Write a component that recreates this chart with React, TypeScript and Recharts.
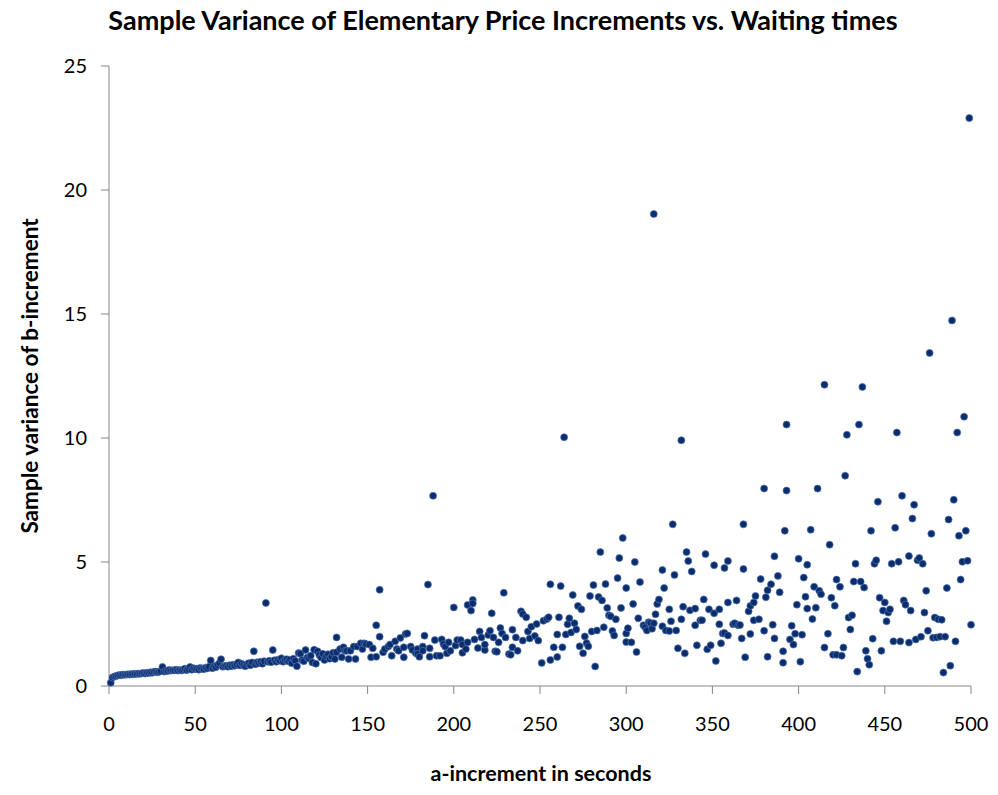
import { Scatter, ScatterChart, XAxis, YAxis } from "recharts";

const TITLE = "Sample Variance of Elementary Price Increments vs. Waiting times";
const X_LABEL = "a-increment in seconds";
const Y_LABEL = "Sample variance of b-increment";

const X_TICKS = [0, 50, 100, 150, 200, 250, 300, 350, 400, 450, 500];
const Y_TICKS = [0, 5, 10, 15, 20, 25];

// one reading per second for the first 130 seconds (x = 1..130)
const earlyVariance = [
  0.13, 0.34, 0.38, 0.4, 0.42, 0.44, 0.43, 0.46, 0.45, 0.46,
  0.47, 0.46, 0.48, 0.47, 0.49, 0.48, 0.5, 0.49, 0.51, 0.52,
  0.5, 0.53, 0.52, 0.55, 0.53, 0.57, 0.58, 0.55, 0.57, 0.6,
  0.77, 0.58, 0.62, 0.6, 0.65, 0.62, 0.64, 0.63, 0.66, 0.62,
  0.65, 0.63, 0.66, 0.7, 0.64, 0.68, 0.77, 0.66, 0.72, 0.68,
  0.7, 0.66, 0.73, 0.7, 0.68, 0.74, 0.71, 0.78, 1.03, 0.72,
  0.8, 0.76, 0.85, 0.92, 1.08, 0.78, 0.8, 0.82, 0.78, 0.84,
  0.8, 0.86, 0.82, 0.88, 0.95, 0.83, 0.9, 0.85, 0.8, 0.88,
  0.92, 0.84, 0.95, 1.4, 0.88, 0.96, 0.92, 0.98, 0.9, 1.0,
  3.35, 0.98, 1.02, 0.96, 1.45, 1.04, 0.98, 1.06, 1.02, 1.12,
  0.98, 1.05, 1.08, 1.0, 1.06, 0.92, 1.1, 1.02, 0.8, 1.33,
  1.3, 1.05, 1.0, 1.45, 1.15, 1.12, 1.22, 0.95, 1.46, 0.9,
  1.4, 1.25, 1.15, 1.3, 1.05, 1.2, 1.28, 1.1, 1.18, 1.34,
];

// [seconds, variance]
const midPoints: [number, number][] = [
  [131, 1.09], [132, 1.96], [132, 1.36], [134, 1.49], [135, 1.16], [136, 1.56],
  [137, 1.42], [138, 1.42], [139, 1.09], [140, 1.42], [142, 1.59], [143, 1.09],
  [144, 1.59], [146, 1.72], [147, 1.49], [148, 1.72], [149, 1.69], [151, 1.67],
  [152, 1.16], [153, 1.52], [155, 1.18], [155, 2.45], [157, 3.88], [157, 1.99],
  [159, 1.36], [160, 1.49], [162, 1.59], [163, 1.67], [164, 1.22], [166, 1.8],
  [167, 1.49], [168, 1.42], [169, 1.94], [171, 1.16], [171, 1.56], [172, 2.1],
  [173, 2.12], [175, 1.59], [176, 1.45], [178, 1.32], [179, 1.49], [179, 1.29],
  [180, 1.18], [182, 1.59], [182, 1.42], [183, 2.03], [185, 4.09], [186, 1.52],
  [186, 1.18], [188, 7.67], [189, 1.85], [190, 1.22], [192, 1.22], [193, 1.88],
  [194, 1.69], [195, 1.59], [196, 1.32], [197, 1.76], [198, 1.42], [200, 3.17],
  [201, 1.63], [202, 1.85], [204, 1.85], [205, 1.67], [205, 1.34], [207, 1.49],
  [208, 1.76], [208, 3.27], [210, 3.04], [211, 3.47], [211, 3.33], [212, 1.88],
  [214, 1.53], [215, 2.2], [216, 1.96], [218, 1.45], [218, 1.67], [220, 2.06],
  [221, 2.23], [222, 2.93], [223, 1.96], [224, 1.4], [225, 1.38], [226, 1.76],
  [227, 2.34], [228, 2.12], [229, 3.76], [230, 1.96], [232, 1.29], [233, 1.26],
  [234, 1.56], [234, 2.27], [236, 1.96], [237, 1.42], [239, 3.01], [240, 2.9],
  [240, 1.83], [242, 2.77], [243, 2.2], [244, 1.92], [245, 2.39], [247, 2.02],
  [248, 2.5], [249, 1.83], [251, 0.93], [252, 2.63], [254, 2.7], [255, 2.77],
  [256, 1.05], [256, 4.1], [258, 1.56],
];

const upperPoints: [number, number][] = [
  [260, 2.08], [260, 1.17], [261, 2.77], [262, 4.03], [263, 1.56], [264, 10.03],
  [265, 2.08], [266, 2.49], [267, 2.73], [268, 2.16], [269, 3.67], [270, 2.53],
  [271, 2.28], [272, 3.23], [273, 1.6], [274, 3.09], [275, 1.32], [276, 2.0],
  [277, 1.73], [278, 1.6], [279, 3.63], [280, 2.2], [281, 4.07], [282, 0.79],
  [283, 2.24], [284, 3.59], [285, 5.4], [286, 3.45], [287, 2.37], [288, 4.11],
  [289, 3.15], [290, 2.85], [291, 2.81], [292, 2.22], [293, 2.04], [294, 2.69],
  [295, 4.35], [296, 5.16], [297, 3.15], [298, 5.97], [300, 3.95], [300, 2.12],
  [300, 1.77], [301, 2.33], [303, 1.76], [304, 3.31], [305, 5.0], [306, 1.37],
  [307, 2.73], [308, 4.19], [310, 2.45], [311, 2.37], [312, 2.24], [313, 2.57],
  [314, 2.54], [315, 2.31], [316, 2.53], [316, 19.03], [317, 2.89], [318, 3.31],
  [319, 3.49], [321, 4.68], [321, 2.41], [322, 3.95], [323, 2.24], [325, 3.09],
  [325, 2.22], [326, 2.61], [327, 6.52], [328, 4.48], [329, 2.24], [330, 1.52],
  [332, 9.91], [332, 2.69], [333, 3.2], [334, 1.32], [335, 5.4], [336, 5.04],
  [337, 3.05], [338, 4.62], [340, 3.12], [340, 2.45], [341, 1.64], [343, 2.65],
  [344, 2.65], [345, 3.49], [346, 5.32], [347, 1.48], [348, 3.09], [349, 1.64],
  [351, 4.87], [351, 2.93], [352, 1.01], [354, 3.09], [354, 2.49], [355, 1.72],
  [356, 2.12], [357, 4.76], [357, 2.14], [359, 5.04], [359, 3.37], [359, 2.04],
  [362, 2.49], [363, 2.53], [364, 3.45], [365, 2.45], [366, 2.46], [367, 1.92],
  [368, 6.52], [368, 4.72], [369, 1.16], [371, 3.01], [372, 3.23], [372, 2.1],
  [374, 3.37], [374, 2.65], [375, 3.63], [377, 2.69], [378, 4.31],
];

const tailPoints: [number, number][] = [
  [380, 7.96], [380, 2.23], [381, 3.58], [382, 3.86], [382, 1.18], [384, 4.1],
  [385, 2.47], [386, 5.23], [386, 1.92], [388, 4.44], [389, 3.78], [391, 1.4],
  [391, 0.94], [392, 6.26], [393, 10.54], [393, 7.88], [395, 1.88], [396, 2.43],
  [397, 1.67], [398, 2.11], [399, 3.28], [400, 5.13], [401, 0.98], [402, 2.07],
  [403, 4.37], [404, 3.6], [405, 4.89], [405, 3.12], [407, 6.3], [408, 2.7],
  [409, 4.0], [410, 3.16], [411, 7.96], [412, 3.84], [413, 3.7], [415, 12.15],
  [415, 1.55], [417, 2.11], [418, 5.7], [419, 3.56], [420, 1.26], [421, 3.24],
  [422, 4.29], [422, 1.26], [424, 4.0], [425, 1.22], [426, 1.55], [427, 8.48],
  [428, 10.13], [429, 2.76], [430, 2.28], [431, 2.85], [432, 4.21], [433, 4.93],
  [434, 0.58], [435, 10.54], [436, 4.21], [437, 12.06], [438, 3.97], [439, 1.42],
  [440, 1.1], [441, 0.86], [442, 6.26], [443, 1.91], [444, 4.93], [445, 5.07],
  [446, 7.43], [447, 3.56], [448, 1.42], [449, 3.04], [450, 3.37], [451, 2.61],
  [452, 2.96], [453, 3.09], [454, 4.93], [455, 1.8], [456, 6.38], [457, 10.22],
  [458, 5.01], [459, 1.8], [460, 7.67], [461, 3.45], [462, 3.28], [464, 5.24],
  [464, 1.75], [465, 3.04], [466, 6.75], [467, 7.31], [468, 1.88], [469, 5.07],
  [470, 5.16], [471, 1.99], [472, 4.93], [473, 2.96], [474, 3.84], [475, 2.23],
  [476, 13.43], [477, 6.14], [478, 1.95], [479, 2.76], [480, 1.96], [481, 2.69],
  [482, 1.99], [483, 2.67], [484, 0.54], [485, 1.99], [486, 3.95], [487, 6.71],
  [488, 0.82], [489, 14.74], [490, 7.51], [491, 1.8], [492, 10.22], [493, 6.06],
  [494, 4.29], [495, 5.01], [496, 10.86], [497, 6.26], [498, 5.05], [499, 22.9],
  [500, 2.47],
];

const points = [
  ...earlyVariance.map((y, i) => ({ x: i + 1, y })),
  ...midPoints.map(([x, y]) => ({ x, y })),
  ...upperPoints.map(([x, y]) => ({ x, y })),
  ...tailPoints.map(([x, y]) => ({ x, y })),
];

const AXIS = "#868686";
const FONT = "Lato, 'Liberation Sans', sans-serif";
const tickStyle = { fill: "#000", fontSize: 20, fontFamily: FONT };

function Dot(props: any) {
  const { cx, cy } = props;
  if (cx == null || cy == null) return null;
  return <circle cx={cx} cy={cy} r={3.5} fill="#0c2d6b" stroke="#4f73b3" strokeWidth={0.7} />;
}

export default function App() {
  return (
    <div
      style={{
        position: "absolute",
        left: 0,
        top: 0,
        width: 998,
        height: 795,
        background: "#fff",
        fontFamily: FONT,
      }}
    >
      <ScatterChart width={998} height={795} margin={{ top: 66, right: 27, bottom: 69, left: 0 }}>
        <XAxis
          type="number"
          dataKey="x"
          domain={[0, 500]}
          ticks={X_TICKS}
          interval={0}
          height={40}
          stroke={AXIS}
          tickSize={8}
          tickMargin={23}
          tick={tickStyle}
        />
        <YAxis
          type="number"
          dataKey="y"
          domain={[0, 25]}
          ticks={Y_TICKS}
          interval={0}
          width={109}
          stroke={AXIS}
          tickSize={8}
          tickMargin={14}
          tick={tickStyle}
        />
        <Scatter data={points} shape={Dot} isAnimationActive={false} />
      </ScatterChart>
      <div
        style={{
          position: "absolute",
          left: 0,
          top: 3,
          width: 1006,
          textAlign: "center",
          fontWeight: 700,
          fontSize: 27,
          lineHeight: "34px",
          color: "#000",
        }}
      >
        {TITLE}
      </div>
      <div
        style={{
          position: "absolute",
          left: 341,
          top: 758,
          width: 400,
          textAlign: "center",
          fontWeight: 700,
          fontSize: 21.5,
          lineHeight: "30px",
          color: "#000",
        }}
      >
        {X_LABEL}
      </div>
      <div
        style={{
          position: "absolute",
          left: 30 - 200,
          top: 376 - 15,
          width: 400,
          textAlign: "center",
          fontWeight: 700,
          fontSize: 22.5,
          lineHeight: "30px",
          color: "#000",
          transform: "rotate(-90deg)",
        }}
      >
        {Y_LABEL}
      </div>
    </div>
  );
}
